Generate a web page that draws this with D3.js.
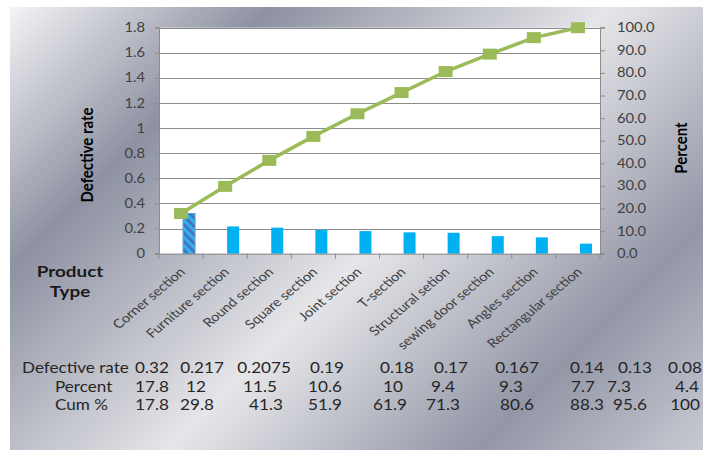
<!DOCTYPE html>
<html><head><meta charset="utf-8">
<script src="https://cdn.jsdelivr.net/npm/d3@7"></script>
<style>html,body{margin:0;padding:0;background:#fff;}svg{display:block;}</style>
</head><body>
<script>
const categories = ["Corner section","Furniture section","Round section","Square section","Joint section","T-section","Structural setion","sewing door section","Angles section","Rectangular section"];
const defectRate = [0.32,0.217,0.2075,0.19,0.18,0.17,0.167,0.14,0.13,0.08];
const percentVals = [17.8,12,11.5,10.6,10,9.4,9.3,7.7,7.3,4.4];
const cumPercent = [17.8,29.8,41.3,51.9,61.9,71.3,80.6,88.3,95.6,100];
const leftTicks = [0,0.2,0.4,0.6,0.8,1,1.2,1.4,1.6,1.8];
const rightTicks = [0,10,20,30,40,50,60,70,80,90,100];
const tableRows = [
  {label:"Defective rate", values: defectRate},
  {label:"Percent", values: percentVals},
  {label:"Cum %", values: cumPercent}
];

// layout
const W = 703, H = 452;
const font = "Lato, 'Open Sans', sans-serif";
const SX = 1.18; // horizontal stretch of the original picture
const plot = {x0:159, x1:600, y0:27.7, y1:253.7};
const tableColX = [
  [152,202,264,327,397,451,517,587,635,685],
  [152,196,260,325,393,443,511,583,619,687],
  [152,197,266,325,390,443,517,587,630,685]
];
const tableLabelX = [22,55,55];
const tableY = [373,392,410];

const svg = d3.select("body").append("svg").attr("width",W).attr("height",H);
const defs = svg.append("defs");
const g = defs.append("linearGradient").attr("id","bg").attr("gradientUnits","userSpaceOnUse")
  .attr("x1",10).attr("y1",7).attr("x2",578).attr("y2",575);
[[0,"#f4f4f6"],[0.23,"#8d91a1"],[0.53,"#e6e6e9"],[0.8,"#9296a6"],[1,"#c8cad2"]]
  .forEach(([o,c])=>g.append("stop").attr("offset",o).attr("stop-color",c));
const pat = defs.append("pattern").attr("id","hatch").attr("patternUnits","userSpaceOnUse")
  .attr("width",6).attr("height",6).attr("patternTransform","rotate(-45)");
pat.append("rect").attr("width",6).attr("height",6).attr("fill","#30b0ee");
pat.append("rect").attr("width",2.5).attr("height",6).attr("fill","#4a6cb4");

svg.append("rect").attr("x",10).attr("y",7).attr("width",W-10).attr("height",443).attr("fill","url(#bg)");

const x = d3.scaleBand().domain(categories).range([plot.x0,plot.x1]);
const yL = d3.scaleLinear().domain([0,1.8]).range([plot.y1,plot.y0]);
const yR = d3.scaleLinear().domain([0,100]).range([plot.y1,plot.y0]);

svg.append("rect").attr("x",plot.x0).attr("y",plot.y0).attr("width",plot.x1-plot.x0).attr("height",plot.y1-plot.y0).attr("fill","#fff");

// gridlines
svg.append("g").selectAll("line").data(leftTicks.slice(1)).join("line")
  .attr("x1",plot.x0).attr("x2",plot.x1).attr("y1",d=>Math.round(yL(d))+0.5).attr("y2",d=>Math.round(yL(d))+0.5)
  .attr("stroke","#8c8c8c").attr("stroke-width",1);

// bars
const bw = 12;
svg.append("g").selectAll("rect").data(categories).join("rect")
  .attr("x",(d)=>x(d)+x.bandwidth()/2+2)
  .attr("y",(d,i)=>yL(defectRate[i]))
  .attr("width",bw)
  .attr("height",(d,i)=>yL(0)-yL(defectRate[i]))
  .attr("fill",(d,i)=>i===0?"url(#hatch)":"#00b0f0")
  .attr("stroke",(d,i)=>i===0?"#5b9bd5":"none").attr("stroke-width",1);

// axes
function stretchTicks(sel){
  sel.selectAll(".tick text").each(function(){
    const t = d3.select(this);
    const xx = +t.attr("x") || 0;
    t.attr("x",null).attr("transform",`translate(${xx},0) scale(${SX},1)`);
  });
}
const axL = d3.axisLeft(yL).tickValues(leftTicks).tickSize(4).tickPadding(10).tickFormat(d3.format("~g"));
const gL = svg.append("g").attr("transform",`translate(${plot.x0},0)`).call(axL);
const axR = d3.axisRight(yR).tickValues(rightTicks).tickSize(5).tickPadding(12).tickFormat(d3.format(".1f"));
const gR = svg.append("g").attr("transform",`translate(${plot.x1},0)`).call(axR);
const axB = d3.axisBottom(x).tickSize(0).tickFormat("");
const gB = svg.append("g").attr("transform",`translate(0,${plot.y1})`).call(axB);
[gL,gR,gB].forEach(a=>{
  a.select(".domain").attr("stroke","#8c8c8c");
  a.selectAll(".tick line").attr("stroke","#8c8c8c");
  a.selectAll("text").attr("font-family",font).attr("font-size",12.5).attr("fill","#404040");
});
stretchTicks(gL); stretchTicks(gR);
gL.select(".domain").attr("d",`M-4,${plot.y0}H0.5V${plot.y1}H-4`);
gR.select(".domain").attr("d",`M5,${plot.y0}H0.5V${plot.y1}H5`);
// category boundary ticks
svg.append("g").selectAll("line").data(d3.range(categories.length+1)).join("line")
  .attr("x1",i=>plot.x0+i*x.bandwidth()).attr("x2",i=>plot.x0+i*x.bandwidth())
  .attr("y1",plot.y1).attr("y2",plot.y1+5).attr("stroke","#8c8c8c");

// category labels
svg.append("g").selectAll("text").data(categories).join("text")
  .attr("transform",d=>`translate(${x(d)+x.bandwidth()/2+5},${plot.y1+19}) scale(${SX},1) rotate(-45)`)
  .attr("text-anchor","end").attr("font-family",font).attr("font-size",12.5).attr("fill","#404040")
  .text(d=>d);

// cumulative line
const line = d3.line().x((d,i)=>x(categories[i])+x.bandwidth()/2).y(d=>yR(d));
svg.append("path").datum(cumPercent).attr("d",line).attr("fill","none").attr("stroke","#9bbb59").attr("stroke-width",3.5);
svg.append("g").selectAll("rect").data(cumPercent).join("rect")
  .attr("x",(d,i)=>x(categories[i])+x.bandwidth()/2-7).attr("y",d=>yR(d)-5.5)
  .attr("width",14).attr("height",11).attr("fill","#9bbb59");

// axis titles
function hText(xp, yp, txt, size, weight, fill, anchor){
  return svg.append("text").attr("transform",`translate(${xp},${yp}) scale(${SX},1)`)
    .attr("text-anchor",anchor||"start").attr("font-family",font).attr("font-size",size)
    .attr("font-weight",weight||"normal").attr("fill",fill).text(txt);
}
svg.append("text").attr("transform",`translate(93,155) scale(${SX},1) rotate(-90)`).attr("text-anchor","middle")
  .attr("font-family",font).attr("font-weight","bold").attr("font-size",15).attr("fill","#000").text("Defective rate");
svg.append("text").attr("transform",`translate(687,148) scale(${SX},1) rotate(-90)`).attr("text-anchor","middle")
  .attr("font-family",font).attr("font-weight","bold").attr("font-size",15).attr("fill","#000").text("Percent");
hText(70,277,"Product",16,"bold","#1a1a1a","middle");
hText(70,297,"Type",16,"bold","#1a1a1a","middle");

// table
tableRows.forEach((r,ri)=>{
  hText(tableLabelX[ri], tableY[ri], r.label, 14.5, "normal", "#262626", "start");
  r.values.forEach((v,i)=>hText(tableColX[ri][i], tableY[ri], String(v), 14.5, "normal", "#262626", "middle"));
});
</script>
</body></html>
